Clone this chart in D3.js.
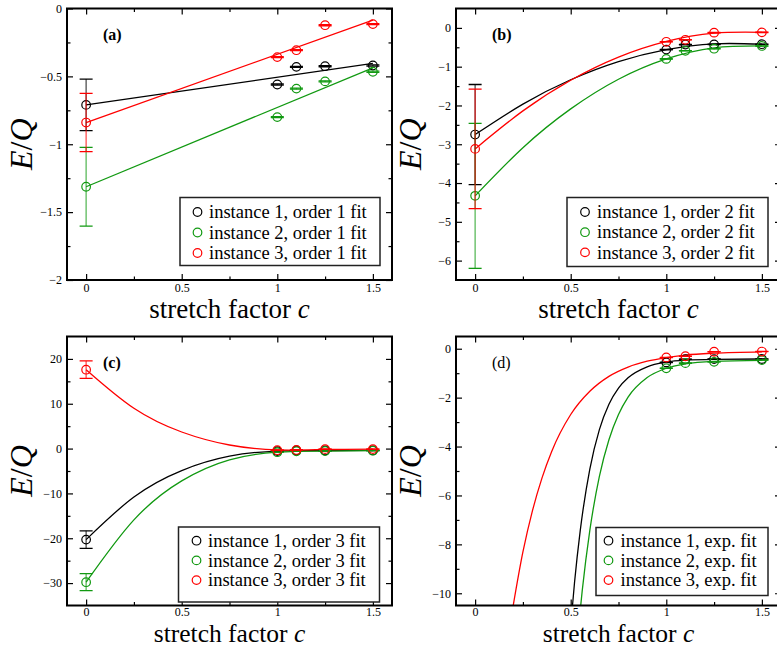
<!DOCTYPE html>
<html>
<head>
<meta charset="utf-8">
<script src="https://cdn.jsdelivr.net/npm/d3@7"></script>
<style>
  body { margin: 0; background: #fff; }
  svg text { font-family: "Liberation Serif", "DejaVu Serif", serif; fill: #000; }
</style>
</head>
<body>
<script>
// measured points at stretch factors c >= 1 (same in all panels)
const stretch = [1, 1.1, 1.25, 1.5];
const inst1E = [-0.56, -0.43, -0.425, -0.42];
const inst2E = [-0.80, -0.59, -0.537, -0.466];
const inst3E = [-0.358, -0.307, -0.123, -0.115];
const pointErr = [0.004, 0.004, 0.004, 0.004];

// extrapolated c = 0 values and their errors, instance 1..3
const order1At0 = [-0.71, -1.313, -0.84];
const order1Err = [0.19, 0.29, 0.215];
const order2At0 = [-2.75, -4.33, -3.12];
const order2Err = [1.29, 1.87, 1.54];
const order3At0 = [-20.3, -29.8, 17.6];
const order3Err = [1.95, 1.9, 1.95];

// fit curves
const fit1C = [0, 1.5];
const fit1E1 = [-0.71, -0.405];
const fit1E2 = [-1.313, -0.437];
const fit1E3 = [-0.84, -0.086];

const fitC = [0, 0.25, 0.5, 0.75, 1, 1.25, 1.5];
const fit2E1 = [-2.75, -1.964, -1.337, -0.869, -0.56, -0.41, -0.42];
const fit2E2 = [-4.33, -3.089, -2.088, -1.324, -0.80, -0.513, -0.466];
const fit2E3 = [-3.12, -2.14, -1.351, -0.755, -0.35, -0.136, -0.115];

const fit3E1 = [-20.3, -10.8, -4.9, -1.7, -0.55, -0.45, -0.42];
const fit3E2 = [-29.8, -15.9, -7.2, -2.5, -0.8, -0.55, -0.47];
const fit3E3 = [17.6, 9.0, 3.7, 0.8, -0.3, -0.2, -0.1];

const expC1 = [0.5, 0.52, 0.55, 0.6, 0.65, 0.7, 0.75, 0.8, 0.9, 1.0, 1.1, 1.25, 1.5];
const expE1 = [-11.33, -9.56, -7.43, -4.92, -3.31, -2.27, -1.61, -1.19, -0.74, -0.55, -0.47, -0.434, -0.42];
const expC2 = [0.54, 0.56, 0.6, 0.65, 0.7, 0.75, 0.8, 0.9, 1.0, 1.1, 1.25, 1.5];
const expE2 = [-11.46, -9.91, -7.43, -5.22, -3.72, -2.69, -1.98, -1.18, -0.80, -0.62, -0.52, -0.48];
const expC3 = [0.19, 0.25, 0.3, 0.35, 0.4, 0.5, 0.6, 0.7, 0.8, 0.9, 1.0, 1.1, 1.25, 1.5];
const expE3 = [-10.93, -8.31, -6.62, -5.28, -4.21, -2.69, -1.74, -1.13, -0.75, -0.51, -0.36, -0.26, -0.18, -0.125];

// ticks
const xMajor = [0, 0.5, 1, 1.5];
const xMinor = [0.25, 0.75, 1.25];
const yMajorA = [0, -0.5, -1, -1.5, -2];
const yMinorA = [-0.25, -0.75, -1.25, -1.75];
const yMajorB = [0, -1, -2, -3, -4, -5, -6];
const yMinorB = [-0.5, -1.5, -2.5, -3.5, -4.5, -5.5];
const yMajorC = [20, 10, 0, -10, -20, -30];
const yMinorC = [15, 5, -5, -15, -25];
const yMajorD = [0, -2, -4, -6, -8, -10];
const yMinorD = [-1, -3, -5, -7, -9];

const legendA = ["instance 1, order 1 fit", "instance 2, order 1 fit", "instance 3, order 1 fit"];
const legendB = ["instance 1, order 2 fit", "instance 2, order 2 fit", "instance 3, order 2 fit"];
const legendC = ["instance 1, order 3 fit", "instance 2, order 3 fit", "instance 3, order 3 fit"];
const legendD = ["instance 1, exp. fit", "instance 2, exp. fit", "instance 3, exp. fit"];

const colors = ["#000000", "#119911", "#ff0000"];
const measured = [inst1E, inst2E, inst3E];

const W = 777, H = 648;
const svg = d3.select("body").append("svg").attr("width", W).attr("height", H);
const fmt = d3.format("~g");

function drawPanel(cfg, id) {
  const x = d3.scaleLinear().domain([-0.1, 1.6]).range([cfg.x0, cfg.x1]);
  const y = d3.scaleLinear().domain(cfg.yDomain).range([cfg.y1, cfg.y0]);
  const g = svg.append("g");

  svg.append("clipPath").attr("id", "clip" + id)
    .append("rect").attr("x", cfg.x0).attr("y", cfg.y0)
    .attr("width", cfg.x1 - cfg.x0).attr("height", cfg.y1 - cfg.y0);

  // axes: inward ticks on all four sides
  const axes = [
    [d3.axisBottom(x).tickValues(xMajor).tickSize(-6).tickPadding(cfg.pad).tickFormat(fmt), `translate(0,${cfg.y1})`],
    [d3.axisBottom(x).tickValues(xMinor).tickSize(-3.5).tickFormat(""), `translate(0,${cfg.y1})`],
    [d3.axisTop(x).tickValues(xMajor).tickSize(-6).tickFormat(""), `translate(0,${cfg.y0})`],
    [d3.axisTop(x).tickValues(xMinor).tickSize(-3.5).tickFormat(""), `translate(0,${cfg.y0})`],
    [d3.axisLeft(y).tickValues(cfg.yMajor).tickSize(-6).tickPadding(5).tickFormat(fmt), `translate(${cfg.x0},0)`],
    [d3.axisLeft(y).tickValues(cfg.yMinor).tickSize(-3.5).tickFormat(""), `translate(${cfg.x0},0)`],
    [d3.axisRight(y).tickValues(cfg.yMajor).tickSize(-6).tickFormat(""), `translate(${cfg.x1},0)`],
    [d3.axisRight(y).tickValues(cfg.yMinor).tickSize(-3.5).tickFormat(""), `translate(${cfg.x1},0)`]
  ];
  axes.forEach(([ax, tr]) => {
    const a = g.append("g").attr("transform", tr).call(ax);
    a.select(".domain").remove();
    a.selectAll("line").attr("stroke", "#000").attr("stroke-width", 1.2);
    a.selectAll("text").attr("font-size", 12)
      .attr("font-family", '"Liberation Serif", serif');
  });

  // fit curves
  const line = d3.line().x(d => x(d[0])).y(d => y(d[1])).curve(cfg.curve);
  cfg.fits.forEach((f, i) => {
    g.append("path")
      .attr("clip-path", `url(#clip${id})`)
      .attr("d", line(d3.zip(f[0], f[1])))
      .attr("fill", "none").attr("stroke", colors[i]).attr("stroke-width", 1.3);
  });

  // points with error bars
  const cap = 6.5;
  cfg.points.forEach((pts, i) => {
    const gp = g.append("g").attr("stroke", colors[i]).attr("fill", "none")
      .attr("clip-path", `url(#clip${id})`);
    pts.forEach(p => {
      const px = x(p[0]);
      gp.append("line").attr("x1", px).attr("x2", px)
        .attr("y1", y(p[1] - p[2])).attr("y2", y(p[1] + p[2]))
        .attr("stroke-width", 1.2).attr("stroke-opacity", 0.75);
      [p[1] - p[2], p[1] + p[2]].forEach(v => {
        gp.append("line").attr("x1", px - cap).attr("x2", px + cap)
          .attr("y1", y(v)).attr("y2", y(v)).attr("stroke-width", 1.3);
      });
    });
    gp.selectAll("circle").data(pts).join("circle")
      .attr("cx", d => x(d[0])).attr("cy", d => y(d[1])).attr("r", 4.3)
      .attr("stroke-width", 1.2);
  });

  // frame
  g.append("rect").attr("x", cfg.x0).attr("y", cfg.y0)
    .attr("width", cfg.x1 - cfg.x0).attr("height", cfg.y1 - cfg.y0)
    .attr("fill", "none").attr("stroke", "#000").attr("stroke-width", 2);

  // legend
  const L = cfg.legend;
  g.append("rect").attr("x", L.x).attr("y", L.y).attr("width", L.w).attr("height", L.h)
    .attr("fill", "#fff").attr("stroke", "#222").attr("stroke-width", 1.5);
  cfg.labels.forEach((t, i) => {
    const ly = L.rowY + i * L.dy;
    g.append("circle").attr("cx", L.mx).attr("cy", ly).attr("r", 4.3)
      .attr("fill", "none").attr("stroke", colors[i]).attr("stroke-width", 1.2);
    g.append("text").attr("x", L.tx).attr("y", ly).attr("dy", "0.33em")
      .attr("font-size", 18.5).text(t);
  });

  // panel tag
  g.append("text").attr("x", cfg.x0 + 36).attr("y", cfg.y0 + 31)
    .attr("font-size", 16).attr("font-weight", cfg.bold ? "bold" : "normal").text(cfg.tag);

  // axis titles
  const xl = g.append("text").attr("x", (cfg.x0 + cfg.x1) / 2).attr("y", cfg.titleY)
    .attr("text-anchor", "middle").attr("font-size", cfg.titleSize);
  xl.append("tspan").text("stretch factor ");
  xl.append("tspan").attr("font-style", "italic").text("c");

  const yl = g.append("text")
    .attr("transform", `translate(${cfg.x0 - 35},${(cfg.y0 + cfg.y1) / 2}) rotate(-90)`)
    .attr("text-anchor", "middle").attr("font-size", 32);
  yl.append("tspan").attr("font-style", "italic").text("E");
  yl.append("tspan").text("/");
  yl.append("tspan").attr("font-style", "italic").text("Q");
}

function pointsWith(at0, err0) {
  return measured.map((m, i) => {
    const pts = stretch.map((c, k) => [c, m[k], pointErr[k]]);
    if (at0) pts.unshift([0, at0[i], err0[i]]);
    return pts;
  });
}

const top0 = 8.5, top1 = 280, bot0 = 336.5, bot1 = 605.5;
const left0 = 67, left1 = 392, right0 = 456, right1 = 781;
const topTitle = { titleY: 318, titleSize: 27, pad: 3 };
const botTitle = { titleY: 642, titleSize: 25.5, pad: 2 };

drawPanel({
  x0: left0, x1: left1, y0: top0, y1: top1, yDomain: [-2, 0], ...topTitle,
  yMajor: yMajorA, yMinor: yMinorA, tag: "(a)", bold: true,
  curve: d3.curveLinear,
  fits: [[fit1C, fit1E1], [fit1C, fit1E2], [fit1C, fit1E3]],
  points: pointsWith(order1At0, order1Err),
  labels: legendA,
  legend: { x: 180, y: 197.5, w: 200, h: 68, mx: 197.5, tx: 209, rowY: 212, dy: 20.5 }
}, "a");

drawPanel({
  x0: right0, x1: right1, y0: top0, y1: top1, yDomain: [-6.5, 0.5], ...topTitle,
  yMajor: yMajorB, yMinor: yMinorB, tag: "(b)", bold: true,
  curve: d3.curveNatural,
  fits: [[fitC, fit2E1], [fitC, fit2E2], [fitC, fit2E3]],
  points: pointsWith(order2At0, order2Err),
  labels: legendB,
  legend: { x: 567, y: 197.5, w: 201, h: 69, mx: 585, tx: 597, rowY: 212, dy: 20.2 }
}, "b");

drawPanel({
  x0: left0, x1: left1, y0: bot0, y1: bot1, yDomain: [-35, 25], ...botTitle,
  yMajor: yMajorC, yMinor: yMinorC, tag: "(c)", bold: true,
  curve: d3.curveNatural,
  fits: [[fitC, fit3E1], [fitC, fit3E2], [fitC, fit3E3]],
  points: pointsWith(order3At0, order3Err),
  labels: legendC,
  legend: { x: 178.5, y: 527, w: 201, h: 75, mx: 196.5, tx: 208, rowY: 540.7, dy: 19.7 }
}, "c");

drawPanel({
  x0: right0, x1: right1, y0: bot0, y1: bot1, yDomain: [-10.5, 0.5], ...botTitle,
  yMajor: yMajorD, yMinor: yMinorD, tag: "(d)", bold: false,
  curve: d3.curveMonotoneX,
  fits: [[expC1, expE1], [expC2, expE2], [expC3, expE3]],
  points: pointsWith(null, null),
  labels: legendD,
  legend: { x: 596, y: 527.5, w: 172, h: 68, mx: 608.5, tx: 620.5, rowY: 540.7, dy: 19.7 }
}, "d");
</script>
</body>
</html>
